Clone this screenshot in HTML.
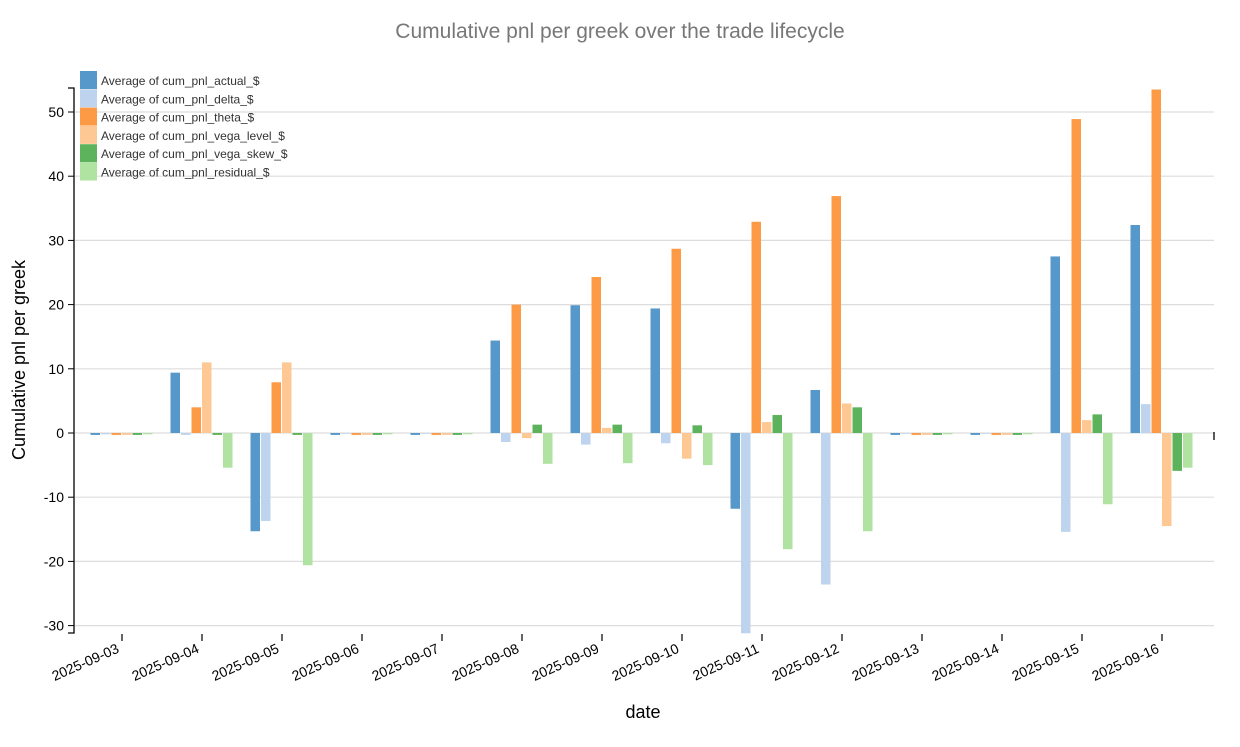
<!DOCTYPE html>
<html><head><meta charset="utf-8"><style>
body{margin:0;background:#fff;font-family:"Liberation Sans",sans-serif}
</style></head><body>
<svg id="chart" width="1240" height="742" xmlns="http://www.w3.org/2000/svg">
<text x="620" y="38" text-anchor="middle" font-size="21" fill="#777">Cumulative pnl per greek over the trade lifecycle</text>
<g id="grid"></g><g id="bars"></g><g id="axes"></g><g id="legend"></g>
<text transform="translate(25,360) rotate(-90)" text-anchor="middle" font-size="18" fill="#000">Cumulative pnl per greek</text>
<text x="643" y="718" text-anchor="middle" font-size="18" fill="#000">date</text>
</svg>
<script>
const categories=["2025-09-03","2025-09-04","2025-09-05","2025-09-06","2025-09-07","2025-09-08","2025-09-09","2025-09-10","2025-09-11","2025-09-12","2025-09-13","2025-09-14","2025-09-15","2025-09-16"];
const seriesNames=["Average of cum_pnl_actual_$","Average of cum_pnl_delta_$","Average of cum_pnl_theta_$","Average of cum_pnl_vega_level_$","Average of cum_pnl_vega_skew_$","Average of cum_pnl_residual_$"];
const actual=[-0.3,9.4,-15.3,-0.3,-0.3,14.4,19.9,19.4,-11.8,6.7,-0.3,-0.3,27.5,32.4];
const delta=[-0.2,-0.3,-13.7,0,0,-1.4,-1.8,-1.6,-31.2,-23.6,-0.1,-0.1,-15.4,4.5];
const theta=[-0.3,4.0,7.9,-0.3,-0.3,20.0,24.3,28.7,32.9,36.9,-0.3,-0.3,48.9,53.5];
const vegaLevel=[-0.3,11.0,11.0,-0.3,-0.3,-0.8,0.8,-4.0,1.7,4.6,-0.3,-0.3,2.0,-14.5];
const vegaSkew=[-0.3,-0.3,-0.3,-0.3,-0.3,1.3,1.3,1.2,2.8,4.0,-0.3,-0.3,2.9,-5.9];
const residual=[-0.2,-5.4,-20.6,-0.2,-0.2,-4.8,-4.7,-5.0,-18.1,-15.3,-0.2,-0.2,-11.1,-5.4];
const yTicks=[-30,-20,-10,0,10,20,30,40,50];
const colors=["#5598c9","#bed3ee","#fd9a45","#fdc894","#5db35b","#b0e2a2"];
const series=[actual,delta,theta,vegaLevel,vegaSkew,residual];
const NS="http://www.w3.org/2000/svg";
const y=v=>433-v*6.42;
const xc=i=>122+i*80;
function mk(t,a,p){const e=document.createElementNS(NS,t);for(const k in a)e.setAttribute(k,a[k]);p.appendChild(e);return e;}
const grid=document.getElementById('grid'),bars=document.getElementById('bars'),axes=document.getElementById('axes'),leg=document.getElementById('legend');
yTicks.forEach(t=>{
 const l=mk('line',{x1:75,x2:1214,y1:y(t),y2:y(t),stroke:"#ddd","stroke-width":1.2},grid);
 
 
 mk('line',{x1:68,x2:74,y1:y(t),y2:y(t),stroke:"#000"},axes);
 const tx=mk('text',{x:64,y:y(t)+5,"text-anchor":"end","font-size":14},axes);
 tx.textContent=t;
 
 
});
mk('path',{d:"M68,88H74V633H68",fill:"none",stroke:"#000","stroke-width":1.3},axes);
mk('line',{x1:1214,x2:1214,y1:432,y2:440,stroke:"#000","stroke-width":1.3},axes);
const bw=10.5;
categories.forEach((c,i)=>{
 series.forEach((s,j)=>{
  const v=s[i];const x0=xc(i)-32+j*bw+0.5;
  const r=mk('rect',{x:x0,y:Math.min(y(v),y(0)),width:bw-1,height:Math.max(Math.abs(y(v)-y(0)),0.8),fill:colors[j]},bars);
  
  
 });
 mk('line',{x1:xc(i),x2:xc(i),y1:634,y2:641,stroke:"#000","stroke-width":1.2},axes);
 const tx=mk('text',{transform:`translate(${xc(i)-2},${652}) rotate(-24)`,"text-anchor":"end","font-size":14},axes);
 tx.textContent=c;
 
 
});
seriesNames.forEach((n,j)=>{
 const g=mk('g',{},leg);
 
 
 mk('rect',{x:80,y:71+j*18.3,width:17,height:18,fill:colors[j]},g);
 const t=mk('text',{x:101,y:85+j*18.3,"font-size":12,fill:"#333"},g);t.textContent=n;
});
</script>
</body></html>
